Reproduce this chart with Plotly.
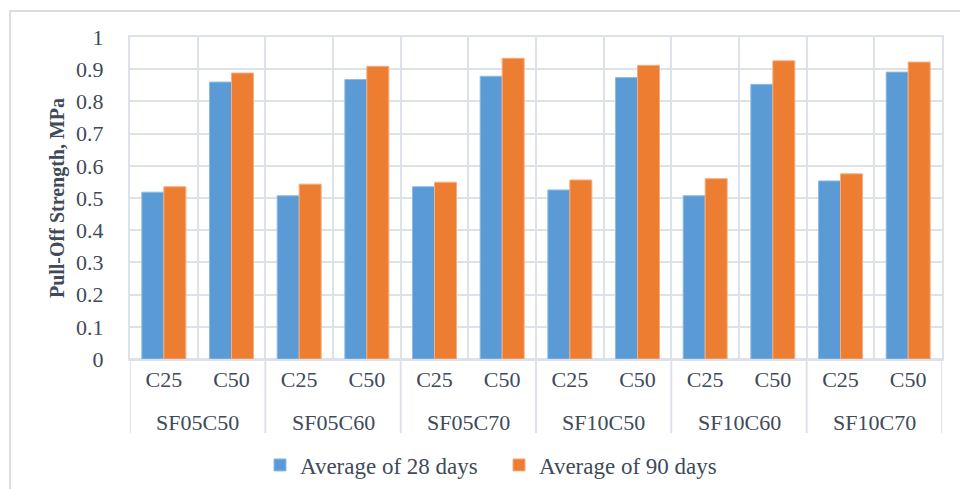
import plotly.graph_objects as go

# Mix groups and concrete classes
groups = ["SF05C50", "SF05C60", "SF05C70", "SF10C50", "SF10C60", "SF10C70"]
classes = ["C25", "C50"]

# Average pull-off strength, MPa
avg_28_days = [0.518, 0.860, 0.507, 0.868, 0.535, 0.878,
               0.525, 0.874, 0.507, 0.853, 0.553, 0.891]
avg_90_days = [0.535, 0.888, 0.543, 0.909, 0.549, 0.934,
               0.556, 0.912, 0.560, 0.926, 0.575, 0.922]

y_ticks = [0, 0.1, 0.2, 0.3, 0.4, 0.5, 0.6, 0.7, 0.8, 0.9, 1]
y_tick_text = ["0", "0.1", "0.2", "0.3", "0.4", "0.5", "0.6", "0.7", "0.8", "0.9", "1"]

# one unique category per (group, class) pair; the class is shown as tick label
x_keys = [f"{g} {c}" for g in groups for c in classes]
x_inner = [c for _ in groups for c in classes]

FONT = "Liberation Serif, Times New Roman, serif"
TEXT = "#404a5a"
GRID = "#dde2ea"

fig = go.Figure()
fig.add_trace(go.Bar(
    name="Average of 28 days",
    x=x_keys, y=avg_28_days,
    marker=dict(color="#5b9bd5", line=dict(color="#8dbbe6", width=1)),
))
fig.add_trace(go.Bar(
    name="Average of 90 days",
    x=x_keys, y=avg_90_days,
    marker=dict(color="#ed7d31", line=dict(color="#f6ad7f", width=1)),
))

W, H = 960, 489
L, R, T, B = 130, 18, 37, 130
pw, ph = W - L - R, H - T - B

def px_x(v):
    return (v - L) / pw

def px_y(v):
    return (H - B - v) / ph

n_cls = len(classes)

# group labels under the class labels, and dividers between groups
for i, g in enumerate(groups):
    fig.add_annotation(x=i * n_cls + (n_cls - 1) / 2, xref="x",
                       y=px_y(422), yref="paper", yanchor="middle",
                       text=g, showarrow=False,
                       font=dict(family=FONT, size=22, color=TEXT))
for i in range(len(groups) + 1):
    xb = i * n_cls - 0.5
    fig.add_shape(type="line", xref="x", yref="paper",
                  x0=xb, x1=xb, y0=0, y1=px_y(433),
                  line=dict(color=GRID, width=2))

# outer chart frame
fig.add_shape(type="rect", xref="paper", yref="paper",
              x0=px_x(10), x1=px_x(975), y0=px_y(505), y1=px_y(11),
              line=dict(color="#d9dde3", width=2), fillcolor="rgba(0,0,0,0)",
              layer="below")

fig.update_layout(
    width=W, height=H,
    margin=dict(l=L, r=R, t=T, b=B, autoexpand=False),
    paper_bgcolor="white", plot_bgcolor="white",
    font=dict(family=FONT, size=22, color=TEXT),
    barmode="group", bargap=0.35, bargroupgap=0,
    showlegend=True,
    legend=dict(orientation="h", x=px_x(499), xanchor="center",
                y=px_y(465), yanchor="middle",
                font=dict(family=FONT, size=23, color=TEXT),
                entrywidth=194, itemwidth=30),
    xaxis=dict(
        type="category", range=[-0.5, len(x_keys) - 0.5],
        tickvals=x_keys, ticktext=x_inner, tickson="boundaries",
        showgrid=True, gridcolor=GRID, gridwidth=2,
        showline=True, linecolor=GRID, linewidth=2, mirror=True,
        ticks="outside", ticklen=16, tickcolor="rgba(0,0,0,0)",
        tickfont=dict(family=FONT, size=22, color=TEXT),
    ),
    yaxis=dict(
        range=[0, 1], tickvals=y_ticks, ticktext=y_tick_text,
        showgrid=True, gridcolor=GRID, gridwidth=2,
        zeroline=True, zerolinecolor=GRID, zerolinewidth=2,
        showline=True, linecolor=GRID, linewidth=2, mirror=True,
        ticks="", ticklabelstandoff=20,
        tickfont=dict(family=FONT, size=22, color=TEXT),
        title=dict(text="<b>Pull-Off Strength, MPa</b>", standoff=6,
                   font=dict(family=FONT, size=20, color=TEXT)),
    ),
)

fig.write_html("out.html")
